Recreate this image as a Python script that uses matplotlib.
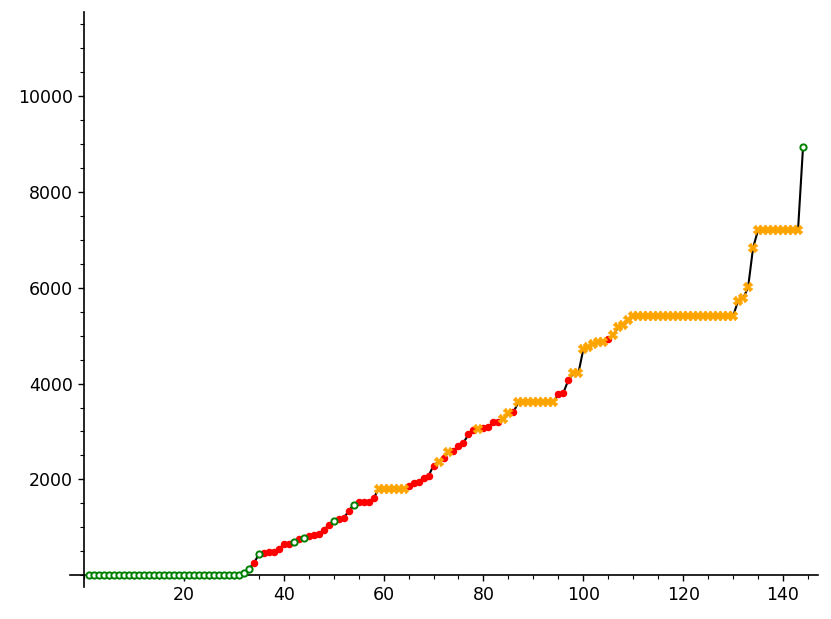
import numpy as np
import matplotlib
matplotlib.use("Agg")
import matplotlib.pyplot as plt
from matplotlib.ticker import MultipleLocator

# values, index n = 1..144
values = ([0] * 31 +
          [56, 135, 247, 435, 465, 483, 485, 543, 647, 655, 700, 758, 785,
           815, 835, 865, 935, 1055, 1134, 1173, 1196, 1336, 1476, 1524,
           1530, 1530, 1605] +
          [1800] * 6 +
          [1868, 1930, 1952, 2031, 2073, 2290, 2365, 2457, 2562, 2595, 2693,
           2762, 2944, 3027, 3048, 3075, 3096, 3188, 3188, 3257, 3376, 3403] +
          [3610] * 8 +
          [3779, 3806, 4071, 4210, 4210, 4715, 4766, 4820, 4858, 4865, 4920,
           5010, 5178, 5212, 5316] +
          [5407] * 21 +
          [5726, 5776, 6006, 6833] +
          [7203] * 9 +
          [8929])

# g = open green circle, r = red dot, o = orange cross
kinds = ("g" * 31 +
         "ggrgrrrrrrgrgrrrrrgrrrgrrrr" +
         "o" * 6 +
         "rrrrrrororrrrrorrrroor" +
         "o" * 8 +
         "rrroooooooroooo" +
         "o" * 21 +
         "oooo" +
         "o" * 9 +
         "g")

n = np.arange(1, len(values) + 1)
values = np.array(values)
kinds = np.array(list(kinds))

fig = plt.figure(figsize=(8.31, 6.19), dpi=100)
ax = fig.add_axes([70 / 831, 32 / 619, 748 / 831, 575 / 619])

ax.plot(n, values, color="black", lw=1.5, zorder=1)

m = kinds == "r"
ax.plot(n[m], values[m], "o", ms=4.4, color="red", mec="red", zorder=2)
m = kinds == "o"
ax.plot(n[m], values[m], "X", ms=6.5, color="orange", mec="orange", mew=0.3, zorder=3)
m = kinds == "g"
ax.plot(n[m], values[m], "o", ms=4.5, mfc="white", mec="green", mew=1.4, zorder=4)

ax.set_xlim(-2.8, 147)
ax.set_ylim(-244, 11750)

ax.spines["left"].set_position(("data", 0))
ax.spines["bottom"].set_position(("data", 0))
ax.spines["right"].set_visible(False)
ax.spines["top"].set_visible(False)
for s in ("left", "bottom"):
    ax.spines[s].set_linewidth(1.2)

ax.xaxis.set_minor_locator(MultipleLocator(5))
ax.yaxis.set_minor_locator(MultipleLocator(500))
ax.set_xticks([20, 40, 60, 80, 100, 120, 140])
ax.set_yticks([2000, 4000, 6000, 8000, 10000])
ax.tick_params(which="major", length=4.5, width=1, labelsize=12.5, direction="out")
ax.tick_params(which="minor", length=3, width=0.8, direction="out")

fig.savefig("out.png", dpi=100)
